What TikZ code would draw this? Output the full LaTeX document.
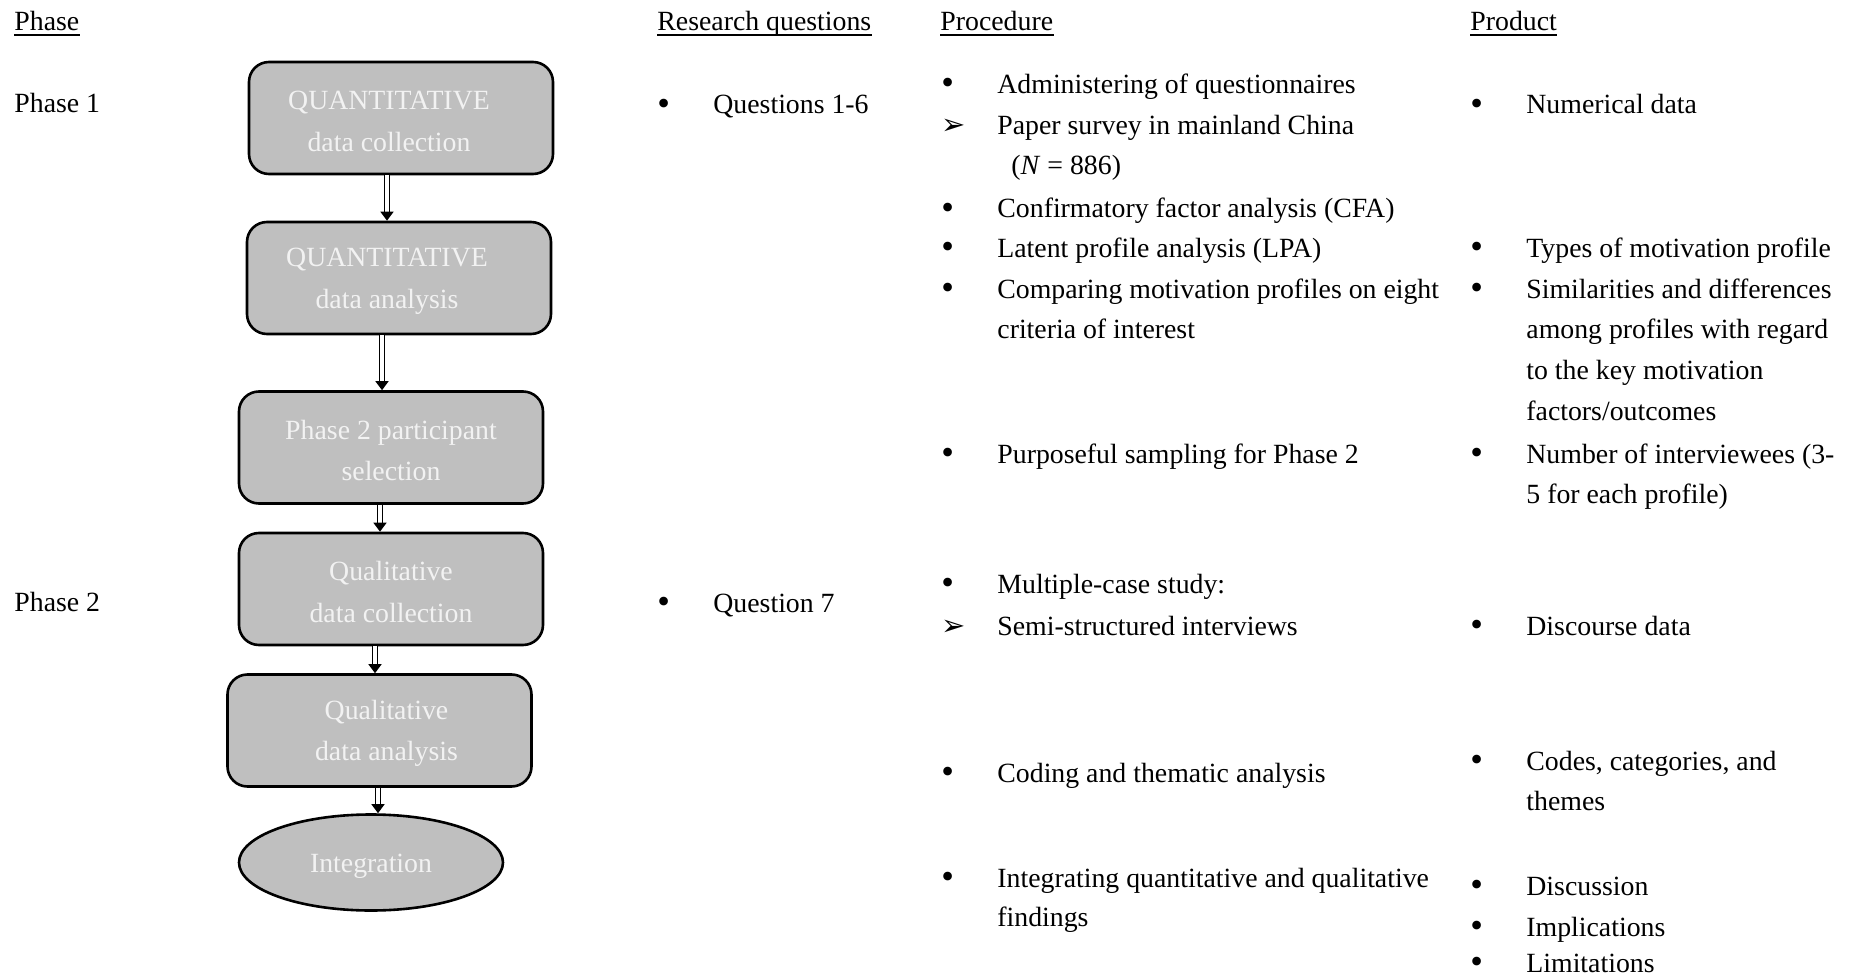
\documentclass[tikz,border=0pt]{standalone}
\usepackage{fontspec}
\setmainfont{Liberation Serif}
\newfontfamily\dingfont{DejaVu Sans}
\usetikzlibrary{arrows.meta,shapes.geometric}

\newcommand{\bul}{\makebox[28pt][l]{\raisebox{-0.5pt}{\scalebox{1.3}{•}}}}
\newcommand{\arr}{\makebox[28pt][l]{\fontsize{14.5}{14.5}\dingfont ➢}}
\newcommand{\lift}{\rule{0pt}{12.5pt}}

\tikzset{
    shapebox/.style={draw, line width=1.3pt, fill=black!25, text=white!95!black, align=center, inner sep=0pt},
    stage/.style={shapebox, rounded corners=10pt, minimum width=152pt, minimum height=56pt},
    merge/.style={shapebox, ellipse, minimum width=132pt, minimum height=48pt},
    txt/.style={anchor=base west, inner sep=0pt, yshift=-1.5pt},
    flowarrow/.style={double, double distance=1.7pt, line width=0.8pt, -{Triangle[width=6.5pt,length=4.5pt]}}
}

\begin{document}
\begin{tikzpicture}[x=0.5pt, y=-0.5pt, font=\fontsize{13.9}{20.7}\selectfont]
    \useasboundingbox (0,0) rectangle (1854,979);

    % column heads
    \node[txt] (hphase) at (14,28) {Phase};
    \node[txt] (hrq) at (657,28) {Research questions};
    \node[txt] (hproc) at (940,28) {Procedure};
    \node[txt] (hprod) at (1470,28) {Product\hspace{7pt}};
    \foreach \h in {hphase, hrq, hproc, hprod}
        \draw[line width=0.7pt] ([yshift=-2pt]\h.base west) -- ([yshift=-2pt]\h.base east);

    \node[txt] (ph1) at (14,110) {Phase 1};
    \node[txt] (ph2) at (14,608) {Phase 2};

    % flow chart
    \node[stage] (qcol) at (401,118) {\lift QUANTITATIVE\hspace*{12pt}\\data collection\hspace*{12pt}};
    \node[stage] (qana) at (399,278) {\lift QUANTITATIVE\hspace*{12pt}\\data analysis\hspace*{12pt}};
    \node[stage] (sel) at (391,447.5) {\lift Phase 2 participant\\selection};
    \node[stage] (qlcol) at (391,589) {\lift Qualitative\\data collection};
    \node[stage] (qlana) at (379.5,730.5) {\lift\hspace*{7pt}Qualitative\\\hspace*{7pt}data analysis};
    \node[merge] (integ) at (371,862.5) {\lift Integration};

    \coordinate (a1) at (387,0);
    \coordinate (a2) at (382,0);
    \coordinate (a3) at (380,0);
    \coordinate (a4) at (375,0);
    \coordinate (a5) at (378,0);
    \draw[flowarrow] (qcol.south -| a1) -- (qana.north -| a1);
    \draw[flowarrow] (qana.south -| a2) -- (sel.north -| a2);
    \draw[flowarrow] (sel.south -| a3) -- (qlcol.north -| a3);
    \draw[flowarrow] (qlcol.south -| a4) -- (qlana.north -| a4);
    \draw[flowarrow] (qlana.south -| a5) -- (integ.north -| a5);

    % research questions
    \node[txt] (rq1) at (657,111) {\bul Questions 1-6};
    \node[txt] (rq7) at (657,609) {\bul Question 7};

    % procedure
    \node[txt] (pr1) at (941,91) {\bul Administering of questionnaires};
    \node[txt] (pr2) at (941,132) {\arr Paper survey in mainland China};
    \node[txt] (pr2b) at (1011,172) {(\textit{N} = 886)};
    \node[txt] (pr3) at (941,215) {\bul Confirmatory factor analysis (CFA)};
    \node[txt] (pr4) at (941,254) {\bul Latent profile analysis (LPA)};
    \node[txt] (pr5) at (941,295) {\bul Comparing motivation profiles on eight};
    \node[txt] (pr5b) at (997,335) {criteria of interest};
    \node[txt] (pr6) at (941,460) {\bul Purposeful sampling for Phase 2};
    \node[txt] (pr7) at (941,590) {\bul Multiple-case study:};
    \node[txt] (pr7b) at (941,632) {\arr Semi-structured interviews};
    \node[txt] (pr8) at (941,779) {\bul Coding and thematic analysis};
    \node[txt] (pr9) at (941,884) {\bul Integrating quantitative and qualitative};
    \node[txt] (pr9b) at (997,923) {findings};

    % product
    \node[txt] (pd1) at (1470,111) {\bul Numerical data};
    \node[txt] (pd2) at (1470,254) {\bul Types of motivation profile};
    \node[txt] (pd3) at (1470,295) {\bul Similarities and differences};
    \node[txt] (pd3b) at (1526,335) {among profiles with regard};
    \node[txt] (pd3c) at (1526,376) {to the key motivation};
    \node[txt] (pd3d) at (1526,417) {factors/outcomes};
    \node[txt] (pd4) at (1470,460) {\bul Number of interviewees (3-};
    \node[txt] (pd4b) at (1526,500) {5 for each profile)};
    \node[txt] (pd5) at (1470,632) {\bul Discourse data};
    \node[txt] (pd6) at (1470,767) {\bul Codes, categories, and};
    \node[txt] (pd6b) at (1526,807) {themes};
    \node[txt] (pd7) at (1470,892) {\bul Discussion};
    \node[txt] (pd8) at (1470,933) {\bul Implications};
    \node[txt] (pd9) at (1470,969) {\bul Limitations};
\end{tikzpicture}
\end{document}
